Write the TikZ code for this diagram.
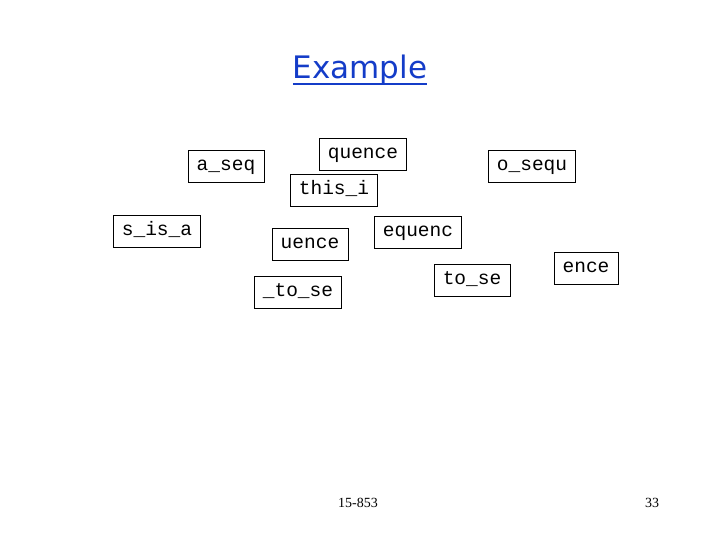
\documentclass[tikz,border=0pt]{standalone}
\usepackage{fontspec}
\setmainfont{Liberation Serif}
\newfontfamily\boxfont{Liberation Mono}
\newfontfamily\titlefont{DejaVu Sans}
\definecolor{titleblue}{RGB}{20,60,200}
\newcommand{\titleul}[1]{\setbox0=\hbox{#1}\rlap{\copy0}\raisebox{-6pt}{\rule{\wd0}{2pt}}}

\begin{document}
\begin{tikzpicture}[x=1pt,y=-1pt,
    piece/.style={draw,thin,font=\boxfont\fontsize{19.5}{19.5}\selectfont,
        inner xsep=8.5pt,minimum height=32pt,text height=12pt,text depth=3pt}]
    % Fix the page size
    \useasboundingbox (0,0) rectangle (720,540);
    % Draw title
    \node[text=titleblue] (title) at (360,70)
        {\titlefont\fontsize{31}{31}\selectfont\titleul{Example}};
    % Draw the pieces
    \node[piece] (aseq) at (226,166) {a\_seq};
    \node[piece] (quence) at (363,154) {quence};
    \node[piece] (thisi) at (334,190) {this\_i};
    \node[piece] (osequ) at (532,166) {o\_sequ};
    \node[piece] (sisa) at (157,231) {s\_is\_a};
    \node[piece] (uence) at (310,244) {uence};
    \node[piece] (equenc) at (418,232) {equenc};
    \node[piece] (ence) at (586,268) {ence};
    \node[piece] (tose) at (472,280) {to\_se};
    \node[piece] (utose) at (298,292) {\_to\_se};
    % Draw footer
    \node[font=\fontsize{14}{14}\selectfont] (course) at (358,503) {15-853};
    \node[font=\fontsize{14}{14}\selectfont] (page) at (652,503) {33};
\end{tikzpicture}
\end{document}
